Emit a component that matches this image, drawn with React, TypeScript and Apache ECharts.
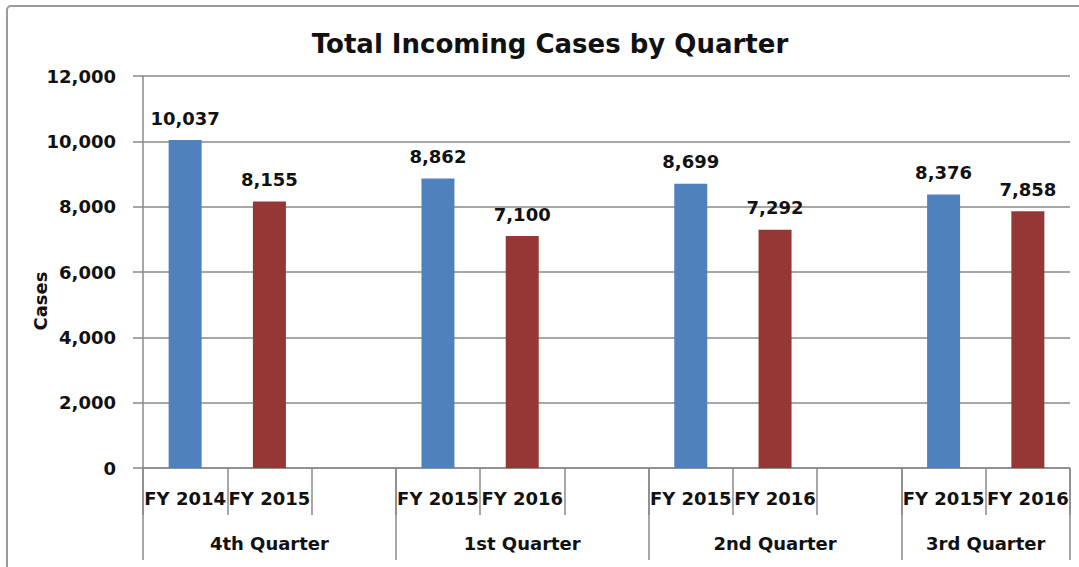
import React, { useEffect, useRef } from "react";
import * as echarts from "echarts";

const titleText = "Total Incoming Cases by Quarter";
const yAxisName = "Cases";
const slotLabels = ["FY 2014", "FY 2015", "", "FY 2015", "FY 2016", "", "FY 2015", "FY 2016", "", "FY 2015", "FY 2016"];
const priorYear = [10037, null, null, 8862, null, null, 8699, null, null, 8376, null];
const currentYear = [null, 8155, null, null, 7100, null, null, 7292, null, null, 7858];
const quarters = ["4th Quarter", "1st Quarter", "2nd Quarter", "3rd Quarter"];
const quarterSlots = [3, 3, 3, 2];
const yMin = 0;
const yMax = 12000;
const yInterval = 2000;

const FONT = "'DejaVu Sans', sans-serif";
const GRAY = "#8a8a8a";

export default function App() {
  const ref = useRef<HTMLDivElement>(null);
  useEffect(() => {
    if (!ref.current) return;
    const chart = echarts.init(ref.current, null, { renderer: "svg" });

    const totalSlots = quarterSlots.reduce((a, b) => a + b, 0);
    const nPoints = totalSlots * 2 + 1;
    const quarterAxis: string[] = new Array(nPoints).fill("");
    const boundaries = new Set<number>();
    let s = 0;
    quarterSlots.forEach((n, g) => {
      quarterAxis[2 * s + n] = quarters[g];
      boundaries.add(2 * s);
      boundaries.add(2 * (s + n));
      s += n;
    });

    const labelCfg = {
      show: true,
      position: "top",
      distance: 13,
      color: "#111",
      fontFamily: FONT,
      fontWeight: "bold",
      fontSize: 18,
      formatter: (p: any) => Number(p.value).toLocaleString("en-US"),
    };

    chart.setOption({
      animation: false,
      backgroundColor: "#fff",
      title: {
        text: titleText,
        left: 545,
        textAlign: "center",
        top: 26,
        textStyle: { fontFamily: FONT, fontWeight: "bold", fontSize: 26, color: "#111" },
      },
      graphic: [
        {
          type: "rect",
          shape: { x: 7, y: 6, width: 1200, height: 700, r: 4 },
          style: { fill: "none", stroke: "#9a9a9a", lineWidth: 2 },
          silent: true,
          z: -1,
        },
        {
          type: "text",
          x: 40,
          y: 301,
          rotation: Math.PI / 2,
          style: {
            text: yAxisName,
            fill: "#111",
            font: `bold 18px ${FONT}`,
            textAlign: "center",
            textVerticalAlign: "middle",
          },
        },
      ],
      grid: { left: 143, right: 9, top: 76, bottom: 99, containLabel: false },
      xAxis: [
        {
          type: "category",
          data: slotLabels.map((_, i) => "slot" + i),
          position: "bottom",
          boundaryGap: true,
          axisLine: { show: true, lineStyle: { color: GRAY, width: 1.5 } },
          axisTick: { show: true, interval: 0, length: 47, lineStyle: { color: GRAY, width: 1.5 } },
          axisLabel: {
            interval: (i: number) => slotLabels[i] !== "",
            formatter: (_v: string, i: number) => slotLabels[i],
            margin: 21,
            color: "#111",
            fontFamily: FONT,
            fontWeight: "bold",
            fontSize: 18,
          },
        },
        {
          type: "category",
          data: quarterAxis.map((_, i) => "pt" + i),
          position: "bottom",
          boundaryGap: false,
          axisLine: { show: false },
          axisTick: {
            show: true,
            interval: (i: number) => boundaries.has(i),
            length: 92,
            lineStyle: { color: GRAY, width: 1.5 },
          },
          axisLabel: {
            interval: (i: number) => quarterAxis[i] !== "",
            formatter: (_v: string, i: number) => quarterAxis[i],
            margin: 66,
            color: "#111",
            fontFamily: FONT,
            fontWeight: "bold",
            fontSize: 18,
          },
        },
      ],
      yAxis: {
        type: "value",
        min: yMin,
        max: yMax,
        interval: yInterval,
        axisLine: { show: true, lineStyle: { color: GRAY, width: 1.5 } },
        axisTick: { show: true, length: 10, lineStyle: { color: GRAY, width: 1.5 } },
        splitLine: { show: true, lineStyle: { color: GRAY, width: 1.5 } },
        axisLabel: {
          margin: 27,
          color: "#111",
          fontFamily: FONT,
          fontWeight: "bold",
          fontSize: 18,
          formatter: (v: number) => v.toLocaleString("en-US"),
        },
      },
      series: [
        {
          name: "Prior year",
          type: "bar",
          xAxisIndex: 0,
          data: priorYear,
          barWidth: 33,
          barGap: "-100%",
          itemStyle: { color: "#4F81BD" },
          label: labelCfg,
        },
        {
          name: "Current year",
          type: "bar",
          xAxisIndex: 0,
          data: currentYear,
          barWidth: 33,
          barGap: "-100%",
          itemStyle: { color: "#953735" },
          label: labelCfg,
        },
      ],
    });
    return () => chart.dispose();
  }, []);
  return (
    <div
      ref={ref}
      style={{ position: "absolute", left: 0, top: 0, width: 1079, height: 567 }}
    />
  );
}
